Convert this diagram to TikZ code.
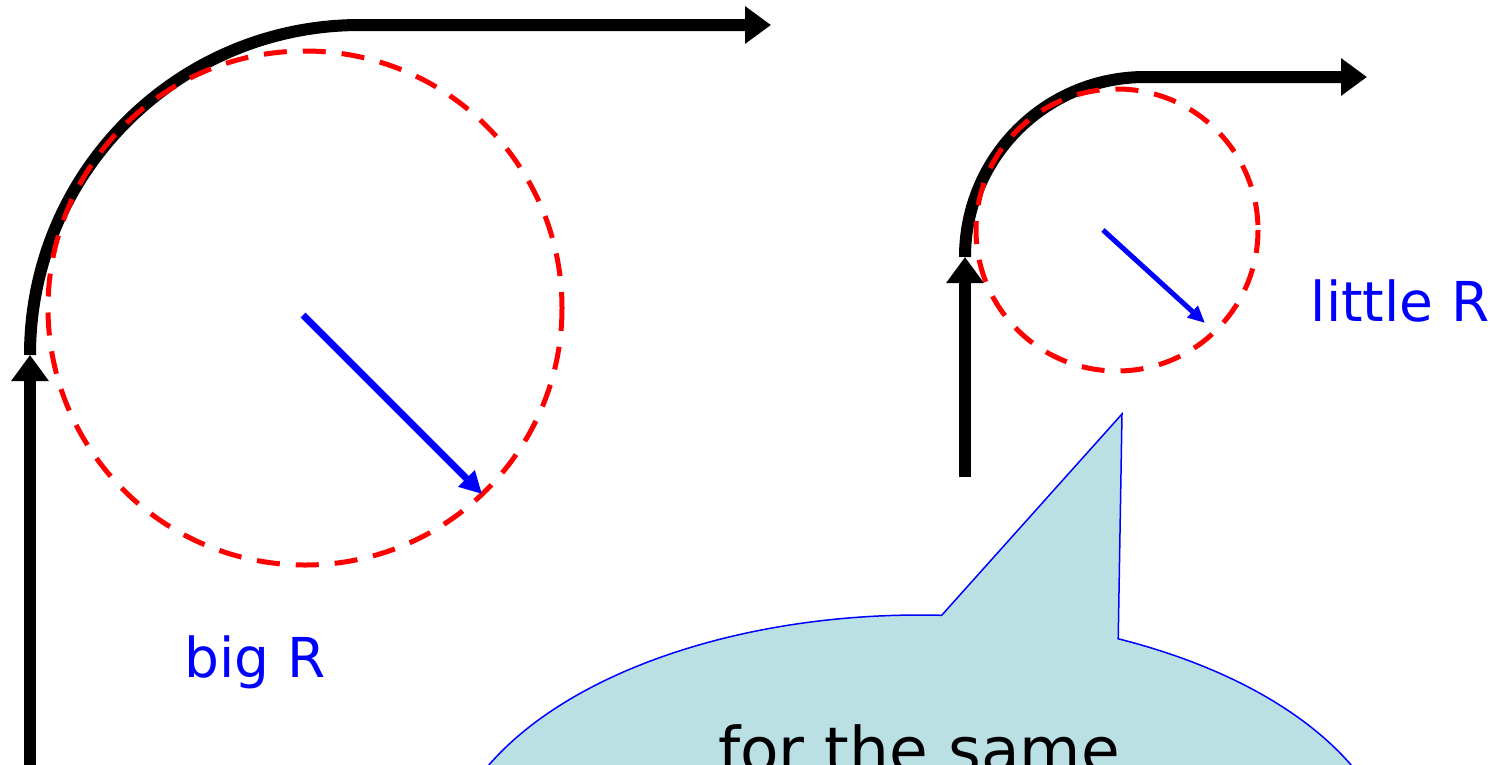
\documentclass[tikz,border=0pt]{standalone}
\usepackage{fontspec}
\setmainfont{DejaVu Sans}
\usetikzlibrary{arrows.meta}
\definecolor{bubblefill}{RGB}{186,224,228}
\begin{document}
\begin{tikzpicture}[x=1pt, y=-1pt,
    track/.style={line width=12pt, black},
    trackhead/.style={-{Triangle[length=26pt,width=36pt]}},
    guide/.style={red, line width=5pt, dash pattern=on 23pt off 16pt},
    bigradius/.style={blue, line width=7pt, -{Triangle[length=22pt,width=22pt]}},
    smallradius/.style={blue, line width=5pt, -{Triangle[length=17pt,width=15pt]}},
    lbl/.style={blue, inner sep=0pt, font=\fontsize{55}{66}\selectfont},
    bubble/.style={draw=blue, line width=1.5pt, fill=bubblefill}]
    \useasboundingbox (0,0) rectangle (1497,764);
    \clip (0,0) rectangle (1497,764);

    % big R turn
    \coordinate (bigstart) at (30,780);
    \coordinate (bigturn) at (30,355);
    \coordinate (bigend) at (771,25);
    \draw[track, trackhead] (bigstart) -- (bigturn);
    \draw[track, trackhead] (bigturn) arc[start angle=180, end angle=270, radius=330] -- (bigend);

    \coordinate (bigc) at (305,308);
    \coordinate (bigr) at (482,494);
    \draw[guide] (bigc) circle[radius=257];
    \draw[bigradius] ([shift={(-2,7)}]bigc) -- (bigr);
    \node[lbl, anchor=base] (biglabel) at (255,677) {big R};

    % little R turn
    \coordinate (smallstart) at (965,477);
    \coordinate (smallturn) at (965,257);
    \coordinate (smallend) at (1367,77);
    \draw[track, trackhead] (smallstart) -- (smallturn);
    \draw[track, trackhead] (smallturn) arc[start angle=180, end angle=270, radius=180] -- (smallend);

    \coordinate (smallc) at (1117,230);
    \coordinate (smallr) at (1205,323);
    \draw[guide] (smallc) circle[radius=141];
    \draw[smallradius] ([shift={(-14,0)}]smallc) -- (smallr);
    \node[lbl, anchor=base] (smalllabel) at (1400,321) {little R};

    % speech bubble
    \coordinate (bubc) at (920,879);
    \coordinate (tip) at (1122,414);
    \draw[bubble] ([shift={(294.5:478 and 264)}]bubc)
        arc[start angle=294.5, end angle=632.6, x radius=478, y radius=264]
        -- (tip) -- cycle;
    \node[anchor=base, inner sep=0pt, font=\fontsize{63}{75}\selectfont] (bubbletext) at (919,772) {for the same};
\end{tikzpicture}
\end{document}
